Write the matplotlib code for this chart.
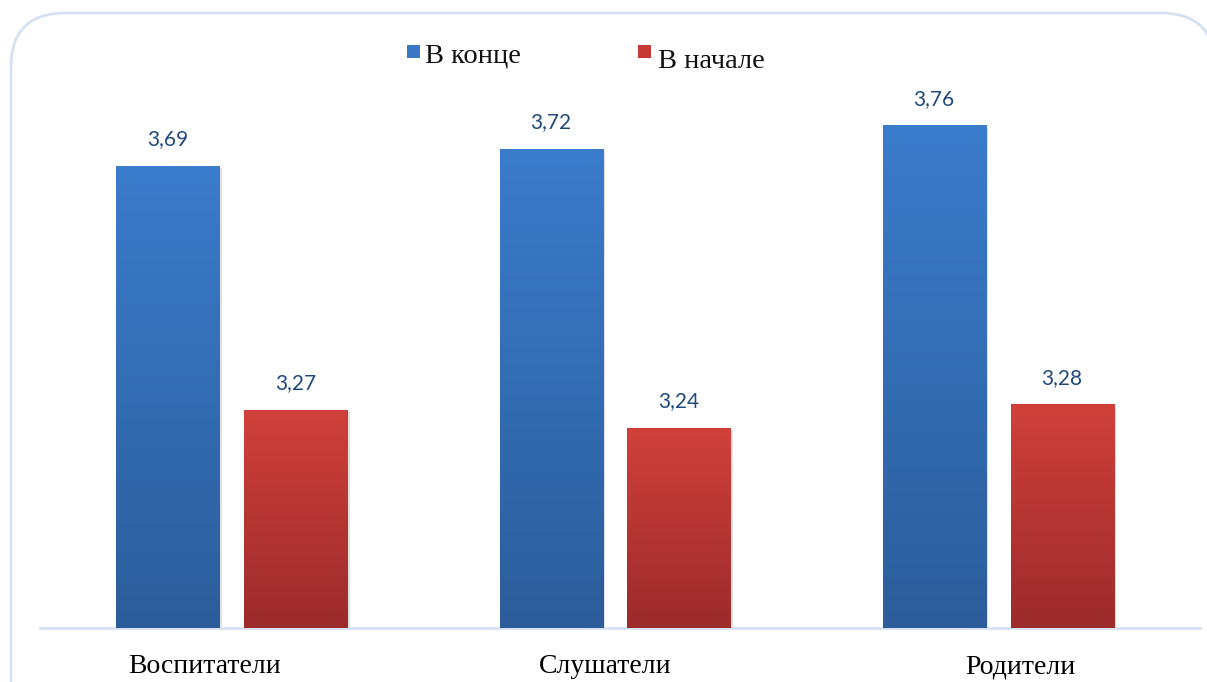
import numpy as np
import matplotlib
matplotlib.use("Agg")
import matplotlib.pyplot as plt
from matplotlib.patches import FancyBboxPatch, Rectangle
from matplotlib.colors import LinearSegmentedColormap
from matplotlib.transforms import ScaledTranslation

categories = ["Воспитатели", "Слушатели", "Родители"]
v_end = [3.69, 3.72, 3.76]
v_start = [3.27, 3.24, 3.28]
series_names = ["В конце", "В начале"]

fig = plt.figure(figsize=(12.07, 6.82), dpi=100)
W, H = 1207, 682

# rounded frame
frame = FancyBboxPatch((11 / W, -0.2), (1215 - 11) / W, 1 - 13 / H + 0.2,
                       boxstyle="round,pad=0,rounding_size=0.045",
                       transform=fig.transFigure, facecolor="white",
                       edgecolor="#d5e2f3", linewidth=2, mutation_aspect=W / H,
                       zorder=-5)
fig.patches.append(frame)

ax = fig.add_axes([40 / W, 1 - 628 / H, (1200 - 40) / W, (628 - 105) / H])
ax.set_facecolor("none")
ax.set_zorder(2)

blue = LinearSegmentedColormap.from_list("b", ["#2c5d9a", "#3b7ccc"])
red = LinearSegmentedColormap.from_list("r", ["#9c2b2b", "#d0403b"])
grad = np.linspace(0, 1, 256).reshape(-1, 1)

x = np.arange(len(categories))
w = 0.269
off = 0.167
base = 2.895


def gradient_bars(xs, vals, cmap):
    bars = ax.bar(xs, np.array(vals) - base, w, bottom=base, color="none",
                  edgecolor="none", zorder=3)
    for b in bars:
        x0, y0 = b.get_x(), b.get_y()
        bw, bh = b.get_width(), b.get_height()
        # soft shadow
        ax.add_patch(Rectangle((x0 + 0.006, y0), bw, bh - 0.004,
                               facecolor="#000000", alpha=0.12,
                               edgecolor="none", zorder=2))
        im = ax.imshow(grad, cmap=cmap, aspect="auto", origin="lower",
                       extent=(x0, x0 + bw, y0, y0 + bh), zorder=3)
        im.set_clip_path(b)
    return bars


b1 = gradient_bars(x - off, v_end, blue)
b2 = gradient_bars(x + off, v_start, red)
ax.set_xlim(-0.501, 2.527)
ax.set_ylim(base, base + 0.9)

for bars, vals in [(b1, v_end), (b2, v_start)]:
    for b, v in zip(bars, vals):
        ax.annotate(("%.2f" % v).replace(".", ","),
                    (b.get_x() + b.get_width() / 2, b.get_y() + b.get_height()),
                    xytext=(0, 12), textcoords="offset points", ha="center",
                    va="bottom", fontsize=15, color="#1f497d", family="Lato")

for s in ["top", "right", "left"]:
    ax.spines[s].set_visible(False)
ax.spines["bottom"].set_color("#d5e2f3")
ax.spines["bottom"].set_linewidth(2)
ax.set_yticks([])
ax.set_xticks(x)
ax.set_xticklabels(categories, family="Liberation Serif", fontsize=20)
ax.tick_params(axis="x", length=0, pad=19)
# labels in the original are not exactly centred under the groups
for lab, dx in zip(ax.get_xticklabels(), [-27, -10, 22]):
    lab.set_transform(lab.get_transform() + ScaledTranslation(dx / 100, 0, fig.dpi_scale_trans))

# legend
leg_items = [(407, 58, "#3a78c6", series_names[0], 425, 63),
             (638, 58, "#c73a36", series_names[1], 658, 68)]
for px, py, c, name, tx, ty in leg_items:
    fig.patches.append(Rectangle((px / W, 1 - py / H), 13 / W, 13 / H,
                                 transform=fig.transFigure, facecolor=c,
                                 edgecolor="none"))
    fig.text(tx / W, 1 - ty / H, name, family="Liberation Serif",
             fontsize=20.5, color="#111111", ha="left", va="baseline")

fig.savefig("out.png", dpi=100)
